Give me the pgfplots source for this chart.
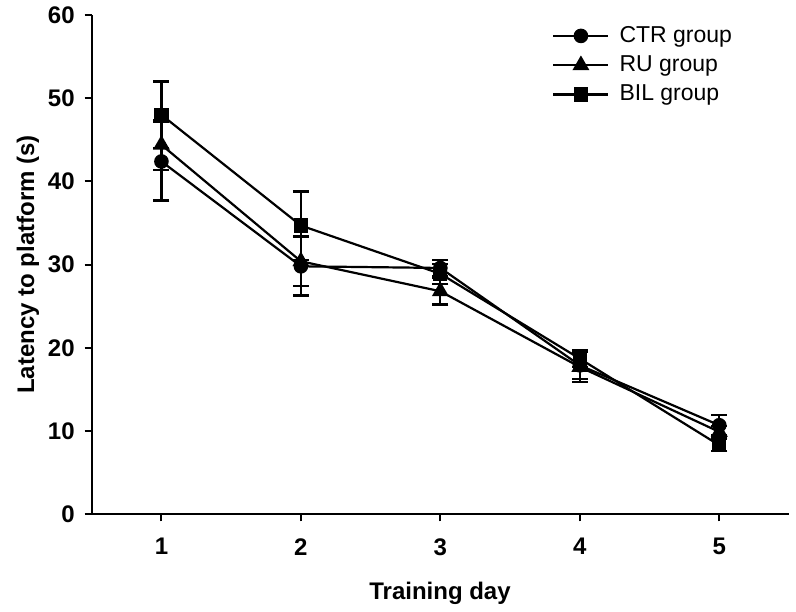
\documentclass[border=0pt]{standalone}
\usepackage{fontspec}
\setmainfont{Liberation Sans}
\usepackage{pgfplots}
\pgfplotsset{compat=1.18}
\begin{document}
\begin{tikzpicture}
\begin{axis}[
  name=ax,
  scale only axis,
  width=348.65pt, height=249.65pt,
  xmin=0.5, xmax=5.5, ymin=0, ymax=60,
  axis x line*=bottom, axis y line*=left,
  axis line style={line width=1pt},
  tick align=outside,
  major tick length=3.5pt,
  tick style={line width=1pt, black},
  xtick={1,2,3,4,5},
  ytick={0,10,20,30,40,50,60},
  /pgf/number format/assume math mode=true,
  ticklabel style={font=\bfseries\fontsize{12}{14}\selectfont},
  xticklabel style={yshift=-5pt},
  yticklabel style={xshift=-1.5pt},
  label style={font=\bfseries\fontsize{12}{14}\selectfont},
  xlabel={Training day},
  ylabel={Latency to platform (s)},
  xlabel style={at={(axis description cs:0.4995,-0.1576)}, anchor=center},
  ylabel style={at={(axis description cs:-0.0914,0.5)}, anchor=center},
  legend style={draw=none, fill=none, at={(axis description cs:0.66,0.982)}, anchor=north west,
    font=\fontsize{11.5}{13}\selectfont, inner sep=0pt, row sep=3.2pt,
    nodes={inner xsep=5pt, inner ysep=1pt}},
  legend cell align=left,
  legend image code/.code={\draw[mark repeat=2,mark phase=2,#1] plot coordinates {(0pt,0pt)(13.75pt,0pt)(27.5pt,0pt)};},
  error bars/error bar style={line width=1.1pt, black},
  error bars/error mark options={rotate=90, mark size=4pt, line width=1.1pt, black},
]
\addplot[black, line width=1.1pt, mark=*, mark size=3.1pt, mark options={fill=black, solid},
  error bars/.cd, y dir=both, y explicit]
  coordinates {(1,42.4) +- (0,4.7) (2,29.8) +- (0,3.5) (3,29.6) +- (0,1.0) (4,17.9) +- (0,1.6) (5,10.7) +- (0,1.2)};
\addlegendentry{CTR group}
\addplot[black, line width=1.1pt, mark=triangle*, mark size=3.8pt, mark options={fill=black, solid},
  error bars/.cd, y dir=both, y explicit]
  coordinates {(1,44.4) +- (0,3.0) (2,30.4) +- (0,3.0) (3,26.8) +- (0,1.6) (4,17.7) +- (0,1.8) (5,9.9) +- (0,0.7)};
\addlegendentry{RU group}
\addplot[black, line width=1.1pt, mark=square*, mark size=3pt, mark options={fill=black, solid},
  error bars/.cd, y dir=both, y explicit]
  coordinates {(1,48.0) +- (0,4.0) (2,34.7) +- (0,4.1) (3,28.9) +- (0,1.2) (4,18.7) +- (0,1.0) (5,8.3) +- (0,0.7)};
\addlegendentry{BIL group}
\end{axis}
\pgfresetboundingbox
\path ([xshift=-45.85pt, yshift=-48.85pt]ax.south west) rectangle ([xshift=3.5pt, yshift=7.5pt]ax.north east);
\end{tikzpicture}
\end{document}
